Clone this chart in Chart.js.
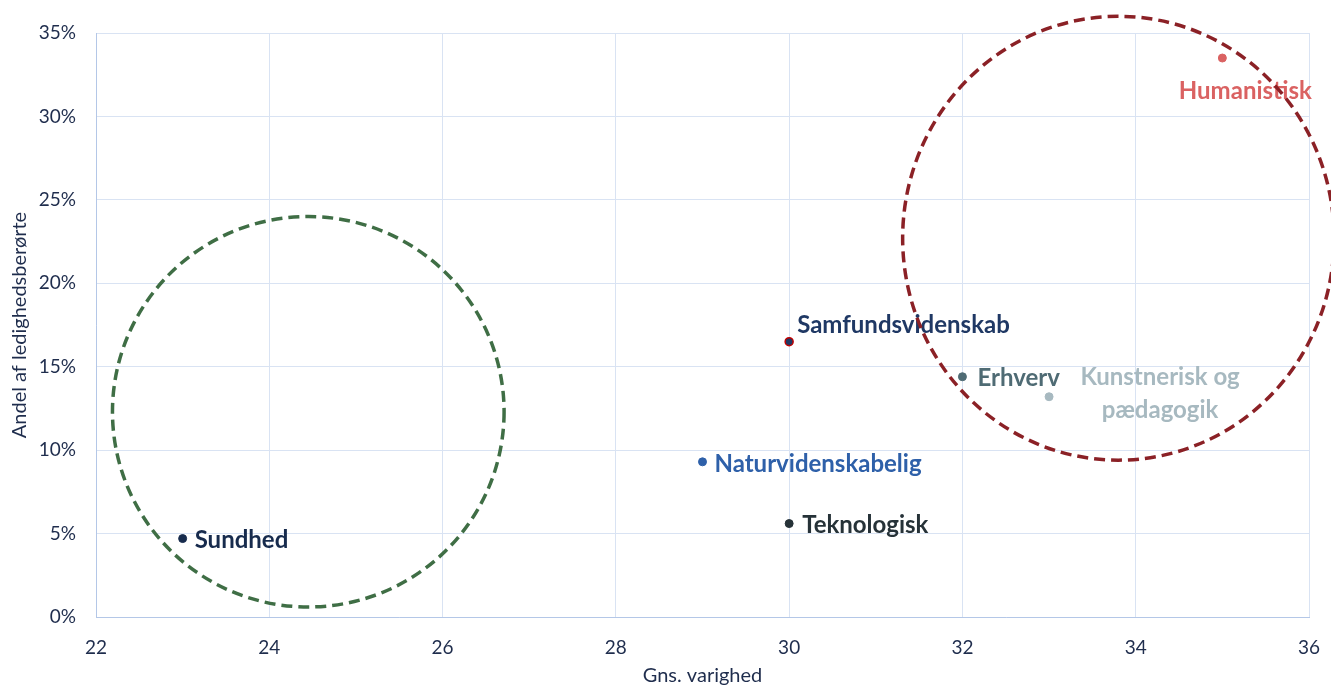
<!DOCTYPE html>
<html>
<head>
<meta charset="utf-8">
<script src="https://cdn.jsdelivr.net/npm/chart.js@4"></script>
<style>
  html, body { margin: 0; padding: 0; background: #fff; }
  #wrap { width: 1331px; height: 688px; position: relative; }
</style>
</head>
<body>
<div id="wrap"><canvas id="scatter"></canvas></div>
<script>
// data
const categories = ['Humanistisk', 'Samfundsvidenskab', 'Erhverv', 'Kunstnerisk og pædagogik', 'Naturvidenskabelig', 'Teknologisk', 'Sundhed'];
const duration = [35, 30, 32, 33, 29, 30, 23];          // Gns. varighed
const share = [33.5, 16.5, 14.4, 13.2, 9.3, 5.6, 4.7];   // Andel af ledighedsberørte (%)
const xTicks = [22, 24, 26, 28, 30, 32, 34, 36];
const yTicks = [0, 5, 10, 15, 20, 25, 30, 35];

// dashed rings (centre and radii in axis units)
const ringX = [24.45, 33.8];
const ringY = [12.3, 22.7];
const ringRx = [2.26, 2.49];
const ringRy = [11.7, 13.3];

const pointColors = ['#DA6262', '#1F3864', '#4F6B74', '#A7B9C0', '#2E60A9', '#263238', '#172B4D'];
const ringColors = ['#3F6E45', '#8B2126'];

// where each label sits relative to its point (px)
const labelPos = [
    { dx: 23, dy: 33, align: 'center' },
    { dx: 8, dy: -16, align: 'left' },
    { dx: 15, dy: 2, align: 'left' },
    { dx: 111, dy: -19, align: 'center', lines: ['Kunstnerisk og', 'pædagogik'], lh: 33 },
    { dx: 12, dy: 2, align: 'left' },
    { dx: 13, dy: 2, align: 'left' },
    { dx: 12, dy: 2, align: 'left' }
];

const FONT = 'Lato, "Open Sans", sans-serif';

const labelPlugin = {
    id: 'pointLabels',
    afterDatasetsDraw(chart) {
        const ctx = chart.ctx;
        const meta = chart.getDatasetMeta(0);
        ctx.save();
        ctx.font = 'bold 24px ' + FONT;
        ctx.textBaseline = 'middle';
        meta.data.forEach((pt, i) => {
            const p = labelPos[i];
            ctx.fillStyle = pointColors[i];
            ctx.textAlign = p.align;
            const lines = p.lines || [categories[i]];
            lines.forEach((t, j) => {
                ctx.fillText(t, pt.x + p.dx, pt.y + p.dy + j * (p.lh || 0));
            });
        });
        ctx.restore();
    }
};

const ringPlugin = {
    id: 'rings',
    afterDraw(chart) {
        const ctx = chart.ctx;
        const xs = chart.scales.x, ys = chart.scales.y;
        ctx.save();
        ctx.lineWidth = 3.5;
        ctx.setLineDash([11, 6]);
        ringX.forEach((cx, i) => {
            const px = xs.getPixelForValue(cx);
            const py = ys.getPixelForValue(ringY[i]);
            const rx = xs.getPixelForValue(cx + ringRx[i]) - px;
            const ry = py - ys.getPixelForValue(ringY[i] + ringRy[i]);
            ctx.strokeStyle = ringColors[i];
            ctx.beginPath();
            ctx.ellipse(px, py, rx, ry, 0, 0, Math.PI * 2);
            ctx.stroke();
        });
        ctx.restore();
    }
};

new Chart(document.getElementById('scatter'), {
    type: 'scatter',
    data: {
        labels: categories,
        datasets: [{
            data: duration.map((d, i) => ({ x: d, y: share[i] })),
            pointBackgroundColor: pointColors,
            pointBorderColor: pointColors.map((c, i) => i === 1 ? '#C00000' : c),
            pointBorderWidth: pointColors.map((c, i) => i === 1 ? 1.5 : 1),
            pointRadius: 4
        }]
    },
    options: {
        responsive: true,
        maintainAspectRatio: false,
        animation: false,
        layout: { padding: { top: 33, right: 22, left: 0, bottom: 0 } },
        plugins: {
            legend: { display: false },
            tooltip: { enabled: false }
        },
        scales: {
            x: {
                type: 'linear',
                min: 22,
                max: 36,
                afterBuildTicks: s => { s.ticks = xTicks.map(v => ({ value: v })); },
                afterFit: s => { s.height = 71; s.paddingRight = 0; s.paddingLeft = 0; },
                grid: { color: '#D9E3F3', drawTicks: false },
                border: { color: '#B4C7E7' },
                ticks: { color: '#1F2D4D', font: { family: FONT, size: 19 }, padding: 19 },
                title: {
                    display: true,
                    text: 'Gns. varighed',
                    color: '#1F2D4D',
                    font: { family: FONT, size: 20 },
                    padding: { top: 0, bottom: 0 }
                }
            },
            y: {
                type: 'linear',
                min: 0,
                max: 35,
                afterBuildTicks: s => { s.ticks = yTicks.map(v => ({ value: v })); },
                afterFit: s => { s.width = 96; },
                grid: { color: '#D9E3F3', drawTicks: false },
                border: { color: '#B4C7E7' },
                ticks: {
                    color: '#1F2D4D',
                    font: { family: FONT, size: 19 },
                    padding: 20,
                    callback: v => v + '%'
                },
                title: {
                    display: true,
                    text: 'Andel af ledighedsberørte',
                    color: '#1F2D4D',
                    font: { family: FONT, size: 20 },
                    padding: { top: 8, bottom: 0 }
                }
            }
        }
    },
    plugins: [labelPlugin, ringPlugin]
});
</script>
</body>
</html>
